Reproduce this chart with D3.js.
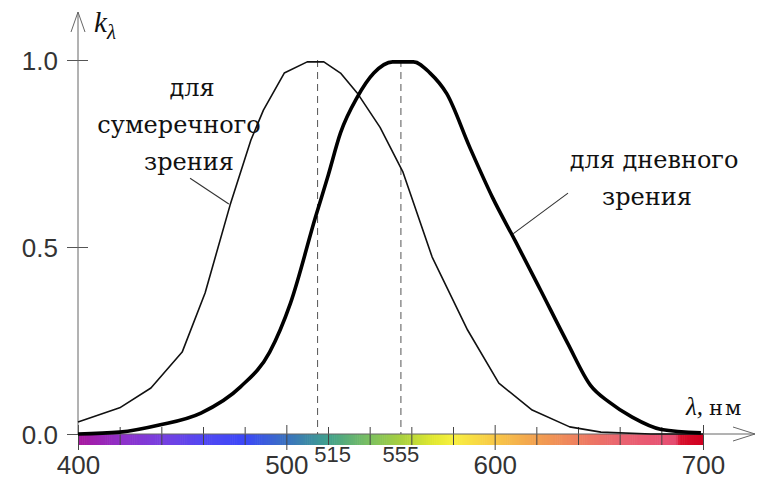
<!DOCTYPE html>
<html>
<head>
<meta charset="utf-8">
<script src="https://cdn.jsdelivr.net/npm/d3@7"></script>
<style>
  body { margin: 0; background: #fff; }
</style>
</head>
<body>
<div id="chart"></div>
<script>
// scotopic curve (thin)
const scotNm = [400, 420, 435, 450, 461, 473, 483, 489, 499, 510, 518, 526, 534, 545, 556, 570, 587, 602, 618, 636, 651, 675, 700];
const scotK = [0.032, 0.07, 0.123, 0.219, 0.377, 0.612, 0.786, 0.866, 0.965, 0.995, 0.995, 0.965, 0.912, 0.82, 0.7, 0.473, 0.278, 0.136, 0.064, 0.019, 0.005, 0, 0];

// photopic curve (thick)
const photNm = [400, 420, 439, 459, 478, 492, 502, 514, 520, 526, 534, 542, 551, 561, 569, 577, 588, 599, 610, 622, 635, 646, 655, 666, 680, 699];
const photK = [0, 0.005, 0.024, 0.056, 0.126, 0.219, 0.35, 0.58, 0.69, 0.805, 0.9, 0.965, 0.995, 0.995, 0.965, 0.91, 0.767, 0.632, 0.515, 0.385, 0.243, 0.13, 0.085, 0.045, 0.012, 0.003];

const yTicks = [0, 0.5, 1];
const xTicks = [400, 420, 440, 460, 480, 500, 520, 540, 560, 580, 600, 620, 640, 660, 680, 700];
const xLabels = [400, 500, 600, 700];
const peakNm = [515, 555];

// spectrum strip colours
const specNm = [400, 420, 440, 460, 480, 500, 520, 540, 555, 570, 580, 600, 620, 640, 660, 680, 687, 689, 700];
const specColor = ["#a8189e", "#9030c8", "#7840e0", "#5248f2", "#3c48f8", "#3a72c0", "#40a08c", "#7cc060", "#a8d040",
  "#e0e830", "#f8f040", "#f8c848", "#f2a050", "#ee8060", "#ea6470", "#e85474", "#e44c70", "#d8102c", "#d00020"];

const width = 769, height = 479;

const x = d3.scaleLinear().domain([400, 700]).range([78, 703]);
const y = d3.scaleLinear().domain([0, 1]).range([434, 60]);
const specScale = d3.scaleLinear().domain(specNm).range(specColor);

const svg = d3
  .select("#chart")
  .append("svg")
  .attr("width", width)
  .attr("height", height);

// spectrum strip under the axis
svg
  .append("g")
  .selectAll("rect")
  .data(d3.range(400, 700, 1))
  .enter()
  .append("rect")
  .attr("x", (d) => x(d))
  .attr("y", y(0))
  .attr("width", (d) => x(d + 1) - x(d) + 0.6)
  .attr("height", 11)
  .attr("fill", (d) => specScale(d + 0.5));

// x axis ticks + labels
const xAxis = d3
  .axisBottom(x)
  .tickValues(xTicks)
  .tickSize(11)
  .tickFormat((d) => (xLabels.includes(d) ? d : ""));

svg
  .append("g")
  .attr("transform", `translate(0, ${y(0)})`)
  .call(xAxis)
  .call((g) => g.select(".domain").remove())
  .call((g) =>
    g
      .selectAll(".tick line")
      .attr("stroke", "#444")
      .attr("y1", (d) => (xLabels.includes(d) ? -9 : -7))
      .attr("y2", (d) => (xLabels.includes(d) ? 16 : 11))
  )
  .call((g) =>
    g
      .selectAll(".tick text")
      .attr("y", 40)
      .attr("dy", 0)
      .attr("font-family", "Liberation Sans, Arial, sans-serif")
      .attr("font-size", "26px")
      .attr("fill", "#333")
  );

// y axis ticks + labels
const yAxis = d3
  .axisLeft(y)
  .tickValues(yTicks)
  .tickSize(11)
  .tickPadding(9)
  .tickFormat(d3.format(".1f"));

svg
  .append("g")
  .attr("transform", `translate(${x(400)}, 0)`)
  .call(yAxis)
  .call((g) => g.select(".domain").remove())
  .call((g) => g.selectAll(".tick line").attr("x1", 10).attr("stroke", "#555"))
  .call((g) =>
    g
      .selectAll(".tick text")
      .attr("dy", "0.36em")
      .attr("font-family", "Liberation Sans, Arial, sans-serif")
      .attr("font-size", "26px")
      .attr("fill", "#333")
  );

// axis lines with open arrows
const axisColor = "#666";
svg
  .append("line")
  .attr("x1", x(400))
  .attr("x2", x(400))
  .attr("y1", y(0))
  .attr("y2", 12)
  .attr("stroke", axisColor);
svg
  .append("path")
  .attr("d", `M${x(400) - 7},32 L${x(400)},12 L${x(400) + 7},32`)
  .attr("fill", "none")
  .attr("stroke", axisColor);

svg
  .append("line")
  .attr("x1", x(400))
  .attr("x2", 755)
  .attr("y1", y(0))
  .attr("y2", y(0))
  .attr("stroke", axisColor);
svg
  .append("path")
  .attr("d", `M733,${y(0) - 7} L755,${y(0)} L733,${y(0) + 7}`)
  .attr("fill", "none")
  .attr("stroke", axisColor);

// dashed lines at the maxima
svg
  .append("g")
  .selectAll("line")
  .data(peakNm)
  .enter()
  .append("line")
  .attr("x1", (d) => x(d))
  .attr("x2", (d) => x(d))
  .attr("y1", y(1))
  .attr("y2", y(0))
  .attr("stroke", "#555")
  .attr("stroke-dasharray", "7,5");

svg
  .append("g")
  .selectAll("text")
  .data(peakNm)
  .enter()
  .append("text")
  .attr("x", (d) => x(d) + (d === 515 ? 15 : 0))
  .attr("y", 462)
  .attr("text-anchor", "middle")
  .attr("font-family", "Liberation Sans, Arial, sans-serif")
  .attr("font-size", "22px")
  .attr("fill", "#333")
  .text((d) => d);

// curves
const line = d3
  .line()
  .x((d) => x(d[0]))
  .y((d) => y(d[1]));

svg
  .append("path")
  .datum(d3.zip(scotNm, scotK))
  .attr("d", line)
  .attr("fill", "none")
  .attr("stroke", "#111")
  .attr("stroke-width", 1.6)
  .attr("stroke-linejoin", "round");

svg
  .append("path")
  .datum(d3.zip(photNm, photK))
  .attr("d", line.curve(d3.curveMonotoneX))
  .attr("fill", "none")
  .attr("stroke", "#000")
  .attr("stroke-width", 3.6)
  .attr("stroke-linejoin", "round");
line.curve(d3.curveLinear);

// leader lines (in data units)
const leaders = [
  [[453.8, 0.684], [472.4, 0.615]],
  [[635.2, 0.644], [608.8, 0.535]],
];
svg
  .append("g")
  .selectAll("path")
  .data(leaders)
  .enter()
  .append("path")
  .attr("d", line)
  .attr("fill", "none")
  .attr("stroke", "#333")
  .attr("stroke-width", 1.1);

// curve captions
const captions = [
  { t: "для", x: 192, y: 96 },
  { t: "сумеречного", x: 179, y: 133 },
  { t: "зрения", x: 189, y: 170 },
  { t: "для дневного", x: 654, y: 168 },
  { t: "зрения", x: 647, y: 205 },
];
svg
  .append("g")
  .selectAll("text")
  .data(captions)
  .enter()
  .append("text")
  .attr("x", (d) => d.x)
  .attr("y", (d) => d.y)
  .attr("text-anchor", "middle")
  .attr("font-family", "DejaVu Serif, serif")
  .attr("font-size", "24px")
  .attr("fill", "#111")
  .text((d) => d.t);

// axis titles
const kLabel = svg
  .append("text")
  .attr("x", 94)
  .attr("y", 32)
  .attr("font-family", "Liberation Serif, serif")
  .attr("font-style", "italic")
  .attr("fill", "#111");
kLabel.append("tspan").attr("font-size", "29px").text("k");
kLabel.append("tspan").attr("font-size", "21px").attr("dy", 7).text("λ");

const lLabel = svg
  .append("text")
  .attr("x", 686)
  .attr("y", 415)
  .attr("fill", "#111");
lLabel
  .append("tspan")
  .attr("font-family", "Liberation Serif, serif")
  .attr("font-style", "italic")
  .attr("font-size", "25px")
  .text("λ,");
lLabel
  .append("tspan")
  .attr("font-family", "DejaVu Serif, serif")
  .attr("font-size", "21px")
  .attr("dx", 6)
  .attr("letter-spacing", 2)
  .text("нм");
</script>
</body>
</html>
